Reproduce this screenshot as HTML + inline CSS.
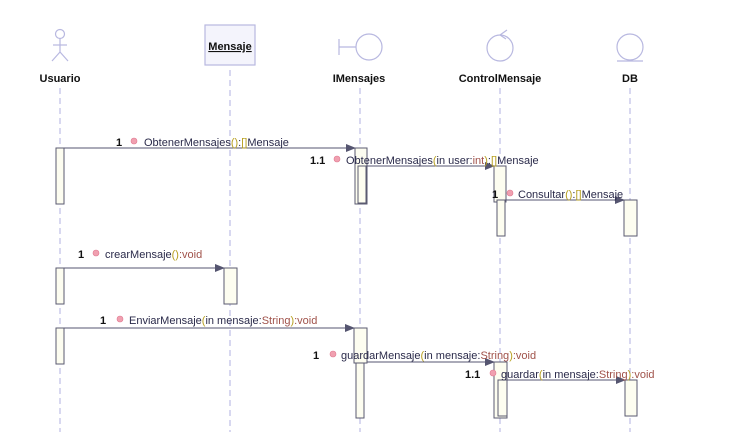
<!DOCTYPE html>
<html><head><meta charset="utf-8"><style>
html,body{margin:0;padding:0;background:#fff;width:731px;height:432px;overflow:hidden}
text{font-family:"Liberation Sans","DejaVu Sans",sans-serif;font-size:11px}
.b{font-weight:bold;fill:#111}
.m{fill:#2a2a4a}
.r{fill:#a0524a}
.y{fill:#b8a020}
</style></head><body>
<svg width="731" height="432" xmlns="http://www.w3.org/2000/svg">
<defs><marker id="a" markerWidth="10" markerHeight="8" refX="9" refY="4" orient="auto" markerUnits="userSpaceOnUse"><path d="M0,0 L10,4 L0,8 z" fill="#555570"/></marker></defs>
<g stroke="#b0b0e0" stroke-width="1" stroke-dasharray="6,4" fill="none">
<line x1="60" y1="88" x2="60" y2="432"/><line x1="230" y1="70" x2="230" y2="432"/>
<line x1="360" y1="88" x2="360" y2="432"/><line x1="500" y1="88" x2="500" y2="432"/><line x1="630" y1="88" x2="630" y2="432"/>
</g>
<!-- headers -->
<g stroke="#b8b8e0" fill="none" stroke-width="1.2">
<circle cx="60" cy="34" r="4.5"/><line x1="60" y1="38.5" x2="60" y2="52"/><line x1="53" y1="45" x2="67" y2="45"/><line x1="60" y1="52" x2="52" y2="61"/><line x1="60" y1="52" x2="68" y2="61"/>
<rect x="205" y="25" width="50" height="40" fill="#f4f4fc"/>
<line x1="339" y1="39" x2="339" y2="55"/><line x1="339" y1="47" x2="356" y2="47"/><circle cx="369" cy="47" r="13"/>
<circle cx="500" cy="48" r="13"/><path d="M507,30 L500,35 L506,39"/>
<circle cx="630" cy="47" r="13"/><line x1="617" y1="61" x2="643" y2="61"/>
</g>
<text x="230" y="50" text-anchor="middle" class="b" style="text-decoration:underline">Mensaje</text>
<text x="60" y="82" text-anchor="middle" class="b">Usuario</text>
<text x="359" y="82" text-anchor="middle" class="b">IMensajes</text>
<text x="500" y="82" text-anchor="middle" class="b">ControlMensaje</text>
<text x="630" y="82" text-anchor="middle" class="b">DB</text>
<!-- activations -->
<g fill="#fdfdf0" stroke="#5a5a70" stroke-width="1">
<rect x="56" y="148" width="8" height="56"/>
<rect x="355" y="148" width="12" height="56"/><rect x="358" y="166" width="8" height="37"/>
<rect x="494" y="166" width="12" height="36"/><rect x="497" y="200" width="8" height="36"/>
<rect x="624" y="200" width="13" height="36"/>
<rect x="56" y="268" width="8" height="36"/><rect x="224" y="268" width="13" height="36"/>
<rect x="56" y="328" width="8" height="36"/>
<rect x="354" y="328" width="13" height="35"/><rect x="356" y="363" width="8" height="55"/>
<rect x="494" y="362" width="13" height="56"/><rect x="498" y="380" width="9" height="36"/>
<rect x="625" y="380" width="12" height="36"/>
</g>
<!-- messages -->
<g stroke="#555570" stroke-width="1" marker-end="url(#a)">
<line x1="64" y1="148" x2="355" y2="148"/>
<line x1="366" y1="166" x2="494" y2="166"/>
<line x1="505" y1="200" x2="624" y2="200"/>
<line x1="64" y1="268" x2="224" y2="268"/>
<line x1="64" y1="328" x2="354" y2="328"/>
<line x1="367" y1="362" x2="494" y2="362"/>
<line x1="507" y1="380" x2="625" y2="380"/>
</g>
<g fill="#f0a0b0" stroke="#e07890" stroke-width="0.6">
<circle cx="134" cy="141" r="3"/><circle cx="337" cy="159" r="3"/><circle cx="510" cy="193" r="3"/>
<circle cx="96" cy="253" r="3"/><circle cx="120" cy="319" r="3"/><circle cx="333" cy="354" r="3"/><circle cx="493" cy="373" r="3"/>
</g>
<text x="116" y="146" class="b">1</text>
<text x="144" y="146" class="m">ObtenerMensajes<tspan class="y">()</tspan>:<tspan class="y">[]</tspan>Mensaje</text>
<text x="310" y="164" class="b">1.1</text>
<text x="346" y="164" class="m">ObtenerMensajes<tspan class="y">(</tspan>in user:<tspan class="r">int</tspan><tspan class="y">)</tspan>:<tspan class="y">[]</tspan>Mensaje</text>
<text x="492" y="198" class="b">1</text>
<text x="518" y="198" class="m">Consultar<tspan class="y">()</tspan>:<tspan class="y">[]</tspan>Mensaje</text>
<text x="78" y="258" class="b">1</text>
<text x="105" y="258" class="m">crearMensaje<tspan class="y">()</tspan><tspan class="r">:void</tspan></text>
<text x="100" y="324" class="b">1</text>
<text x="129" y="324" class="m">EnviarMensaje<tspan class="y">(</tspan>in mensaje:<tspan class="r">String</tspan><tspan class="y">)</tspan><tspan class="r">:void</tspan></text>
<text x="313" y="359" class="b">1</text>
<text x="341" y="359" class="m">guardarMensaje<tspan class="y">(</tspan>in mensaje:<tspan class="r">String</tspan><tspan class="y">)</tspan><tspan class="r">:void</tspan></text>
<text x="465" y="378" class="b">1.1</text>
<text x="501" y="378" class="m">guardar<tspan class="y">(</tspan>in mensaje:<tspan class="r">String</tspan><tspan class="y">)</tspan><tspan class="r">:void</tspan></text>
</svg>
</body></html>
